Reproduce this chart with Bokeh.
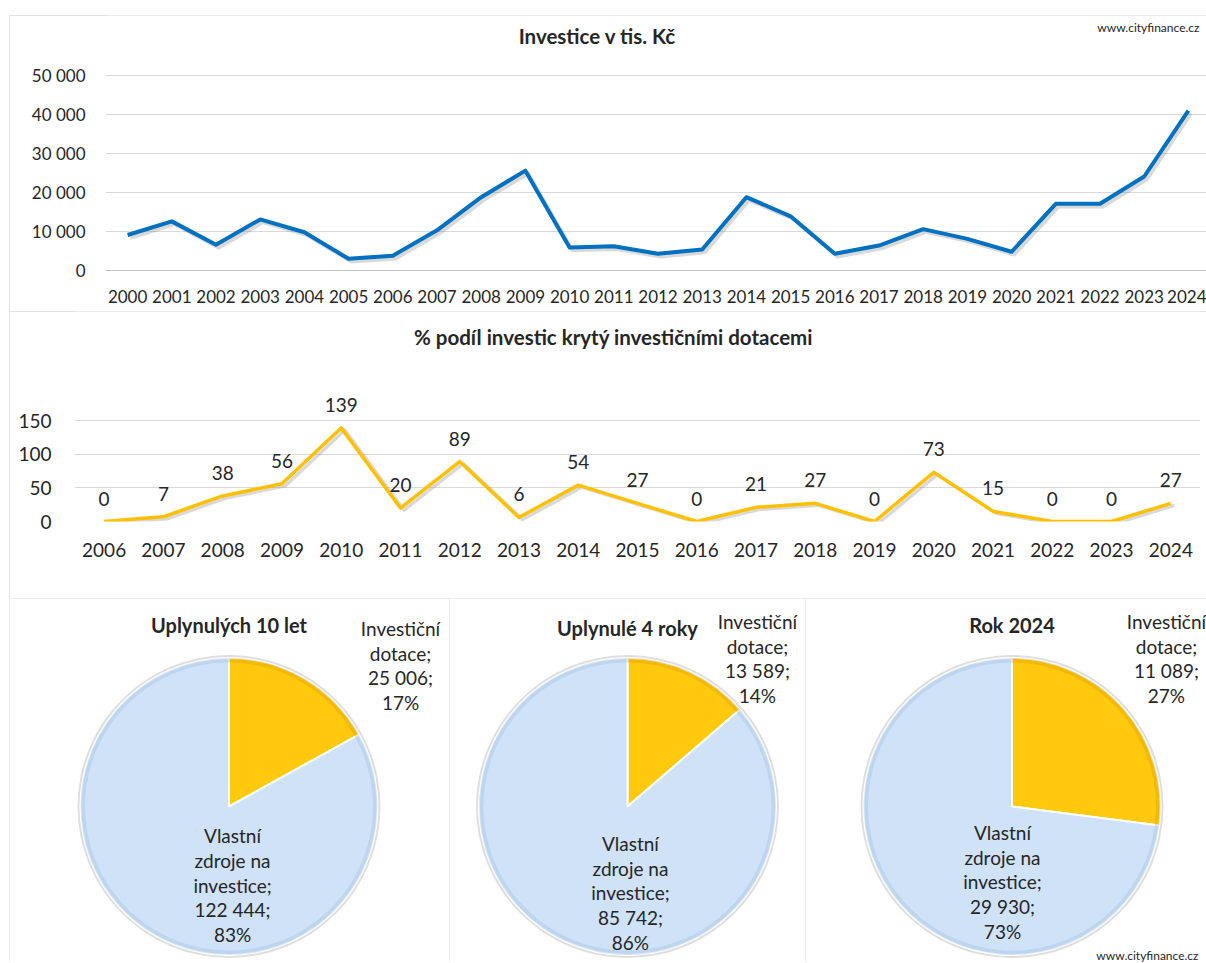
import math
import textwrap
from bokeh.plotting import figure
from bokeh.models import Range1d, FactorRange, FixedTicker, ColumnDataSource, Spacer
from bokeh.layouts import column, row
from bokeh.transform import dodge
from bokeh.core.properties import value
from bokeh.embed import file_html
from bokeh.resources import INLINE

# ---------------- data ----------------
inv_years = list(range(2000, 2025))
inv_values = [9100, 12600, 6600, 13100, 9800, 3000, 3800, 10300, 18800, 25600,
              5900, 6200, 4300, 5400, 18800, 13900, 4300, 6400, 10600, 8100,
              4800, 17100, 17100, 24100, 41019]
inv_ticks = [0, 10000, 20000, 30000, 40000, 50000]
inv_title = "Investice v tis. Kč"
source_note = "www.cityfinance.cz"

pct_years = [str(y) for y in range(2006, 2025)]
pct_values = [0, 7, 38, 56, 139, 20, 89, 6, 54, 27, 0, 21, 27, 0, 73, 15, 0, 0, 27]
pct_ticks = [0, 50, 100, 150]
pct_title = "% podíl investic krytý investičními dotacemi"

pie_titles = ["Uplynulých 10 let", "Uplynulé 4 roky", "Rok 2024"]
pie_names = ["Investiční dotace", "Vlastní zdroje na investice"]
dotace_vals = [25006, 13589, 11089]
vlastni_vals = [122444, 85742, 29930]

# ---------------- style ----------------
FONT = "Lato"
TXT = "#262626"
GRID = "#d9d9d9"
BLUE_LINE = "#0070C0"
GOLD_LINE = "#FFC000"
PIE_COLORS = ["#FFC90E", "#CFE2F8"]
RIM_COLORS = ["#D99A00", "#9FBCE0"]
PANEL = {"outline": "1px solid #d9d9d9", "outline-offset": "-1px"}
W = 1197


def fmt(v):
    return f"{v:,}".replace(",", " ")


def style_axes(p, size):
    for ax in p.axis:
        ax.major_tick_line_color = None
        ax.minor_tick_line_color = None
        ax.major_tick_out = 0
        ax.major_tick_in = 0
        ax.minor_tick_out = 0
        ax.minor_tick_in = 0
        ax.major_label_text_font = FONT
        ax.major_label_text_font_size = size
        ax.major_label_text_color = TXT


# ---------------- top: investments ----------------
# frame: 255 px tall, 50 000 reached 195 px above the baseline
p1 = figure(width=W, height=296,
            x_range=Range1d(1999.5, 1999.5 + (W - 96) / 44.2),
            y_range=Range1d(0, 50000 * 255 / 195),
            output_backend="svg", toolbar_location=None, title=None,
            min_border_left=96, min_border_right=0,
            min_border_top=0, min_border_bottom=41, styles=PANEL)
p1.frame_align = False
style_axes(p1, "17px")
p1.outline_line_color = None
yt1 = FixedTicker(ticks=inv_ticks)
p1.yaxis.ticker = yt1
p1.ygrid.ticker = yt1
p1.yaxis.major_label_overrides = {t: fmt(t) for t in inv_ticks}
p1.xaxis.ticker = FixedTicker(ticks=inv_years)
p1.xgrid.visible = False
p1.ygrid.grid_line_color = GRID
p1.yaxis.axis_line_color = None
p1.xaxis.axis_line_color = "#bfbfbf"
p1.yaxis.major_label_standoff = 20
p1.xaxis.major_label_standoff = 19

src1 = ColumnDataSource(dict(year=inv_years, val=inv_values))
p1.line(x=dodge("year", 0.06), y=dodge("val", -700), source=src1,
        line_color="#808080", line_alpha=0.3, line_width=4, line_join="round")
p1.line("year", "val", source=src1, line_color=BLUE_LINE, line_width=4,
        line_join="round")
p1.text(x=[2010.63], y=[60256], text=[inv_title], text_align="center",
        text_baseline="middle", text_font=value(FONT), text_font_size="20.5px",
        text_font_style="bold", text_color=TXT)
p1.text(x=[2021.94], y=[62308], text=[source_note], text_align="left",
        text_baseline="middle", text_font=value(FONT), text_font_size="12px",
        text_color=TXT)

# ---------------- middle: % covered by subsidies ----------------
# frame: 210 px tall, 150 reached 101 px above the baseline
p2 = figure(width=W, height=287,
            x_range=FactorRange(factors=pct_years),
            y_range=Range1d(0, 150 * 210 / 101),
            output_backend="svg", toolbar_location=None, title=None,
            min_border_left=65, min_border_right=6,
            min_border_top=0, min_border_bottom=77, styles=PANEL)
p2.frame_align = False
style_axes(p2, "19px")
p2.outline_line_color = None
yt2 = FixedTicker(ticks=pct_ticks)
p2.yaxis.ticker = yt2
p2.ygrid.ticker = yt2
p2.xgrid.visible = False
p2.ygrid.grid_line_color = GRID
p2.yaxis.axis_line_color = None
p2.xaxis.axis_line_color = None
p2.yaxis.major_label_standoff = 23
p2.xaxis.major_label_standoff = 21

src2 = ColumnDataSource(dict(year=pct_years, pct=pct_values,
                             lbl=[str(v) for v in pct_values]))
p2.line(x=dodge("year", 0.06, range=p2.x_range), y=dodge("pct", -3), source=src2,
        line_color="#808080", line_alpha=0.3, line_width=3.5, line_join="round")
p2.line("year", "pct", source=src2, line_color=GOLD_LINE, line_width=3.5,
        line_join="round")
p2.text(x="year", y="pct", text="lbl", source=src2, y_offset=-23,
        text_align="center", text_baseline="middle", text_font=value(FONT),
        text_font_size="19px", text_color=TXT)
p2.text(x=[9.095], y=[273.3], text=[pct_title], text_align="center",
        text_baseline="middle", text_font=value(FONT), text_font_size="20.5px",
        text_font_style="bold", text_color=TXT)

# ---------------- bottom: pies ----------------
R = 148.5
PH = 364
CY = 208
pie_layout = [
    # fig width, centre x in fig, outer label pos, inner label pos, title y
    (440, 219.5, (1.155, 0.949), (0.024, -0.529), 1.219),
    (356, 178.0, (0.875, 0.997), (0.020, -0.582), 1.205),
    (401, 206.5, (1.040, 0.997), (-0.064, -0.508), 1.219),
]

pies = []
for i, (w, cx, opos, ipos, ty) in enumerate(pie_layout):
    p = figure(width=w, height=PH,
               x_range=Range1d(-cx / R, (w - cx) / R),
               y_range=Range1d(-(PH - CY) / R, CY / R),
               x_axis_type=None, y_axis_type=None,
               output_backend="svg", toolbar_location=None,
               min_border=0, title=None, styles=PANEL)
    p.outline_line_color = None
    vals = [dotace_vals[i], vlastni_vals[i]]
    tot = sum(vals)
    a = math.pi / 2
    starts, ends = [], []
    for v in vals:
        starts.append(a)
        a -= 2 * math.pi * v / tot
        ends.append(a)
    src = ColumnDataSource(dict(start=starts, end=ends, color=PIE_COLORS,
                                rim=RIM_COLORS))
    p.circle(x=0, y=0, radius=1.02, fill_color="#b5b5b5", fill_alpha=0.45,
             line_color=None)
    p.wedge(x=0, y=0, radius=1, start_angle="start", end_angle="end",
            direction="clock", fill_color="color", line_color="white",
            line_width=2, source=src)
    p.annular_wedge(x=0, y=0, inner_radius=0.97, outer_radius=1.0,
                    start_angle="start", end_angle="end", direction="clock",
                    fill_color="rim", fill_alpha=0.35, line_color=None,
                    source=src)
    pcts = [round(100 * v / tot) for v in vals]
    labels = ["\n".join(textwrap.wrap(pie_names[k], 10)) + ";\n" +
              fmt(vals[k]) + ";\n" + f"{pcts[k]}%" for k in range(2)]
    p.text(x=[opos[0], ipos[0]], y=[opos[1], ipos[1]], text=labels,
           text_align="center", text_baseline="middle", text_line_height=1.07,
           text_font=value(FONT), text_font_size="19px", text_color=TXT)
    p.text(x=[0], y=[ty], text=[pie_titles[i]], text_align="center",
           text_baseline="middle", text_font=value(FONT),
           text_font_size="20px", text_font_style="bold", text_color=TXT)
    if i == 2:
        p.text(x=[0.912], y=[-1.003], text=[source_note],
               text_align="center", text_baseline="middle",
               text_font=value(FONT), text_font_size="12px", text_color=TXT)
    pies.append(p)

layout = row(Spacer(width=9, height=962),
             column(Spacer(width=W, height=15), p1, p2, row(*pies)))

with open("out.html", "w") as f:
    f.write(file_html(layout, INLINE))
